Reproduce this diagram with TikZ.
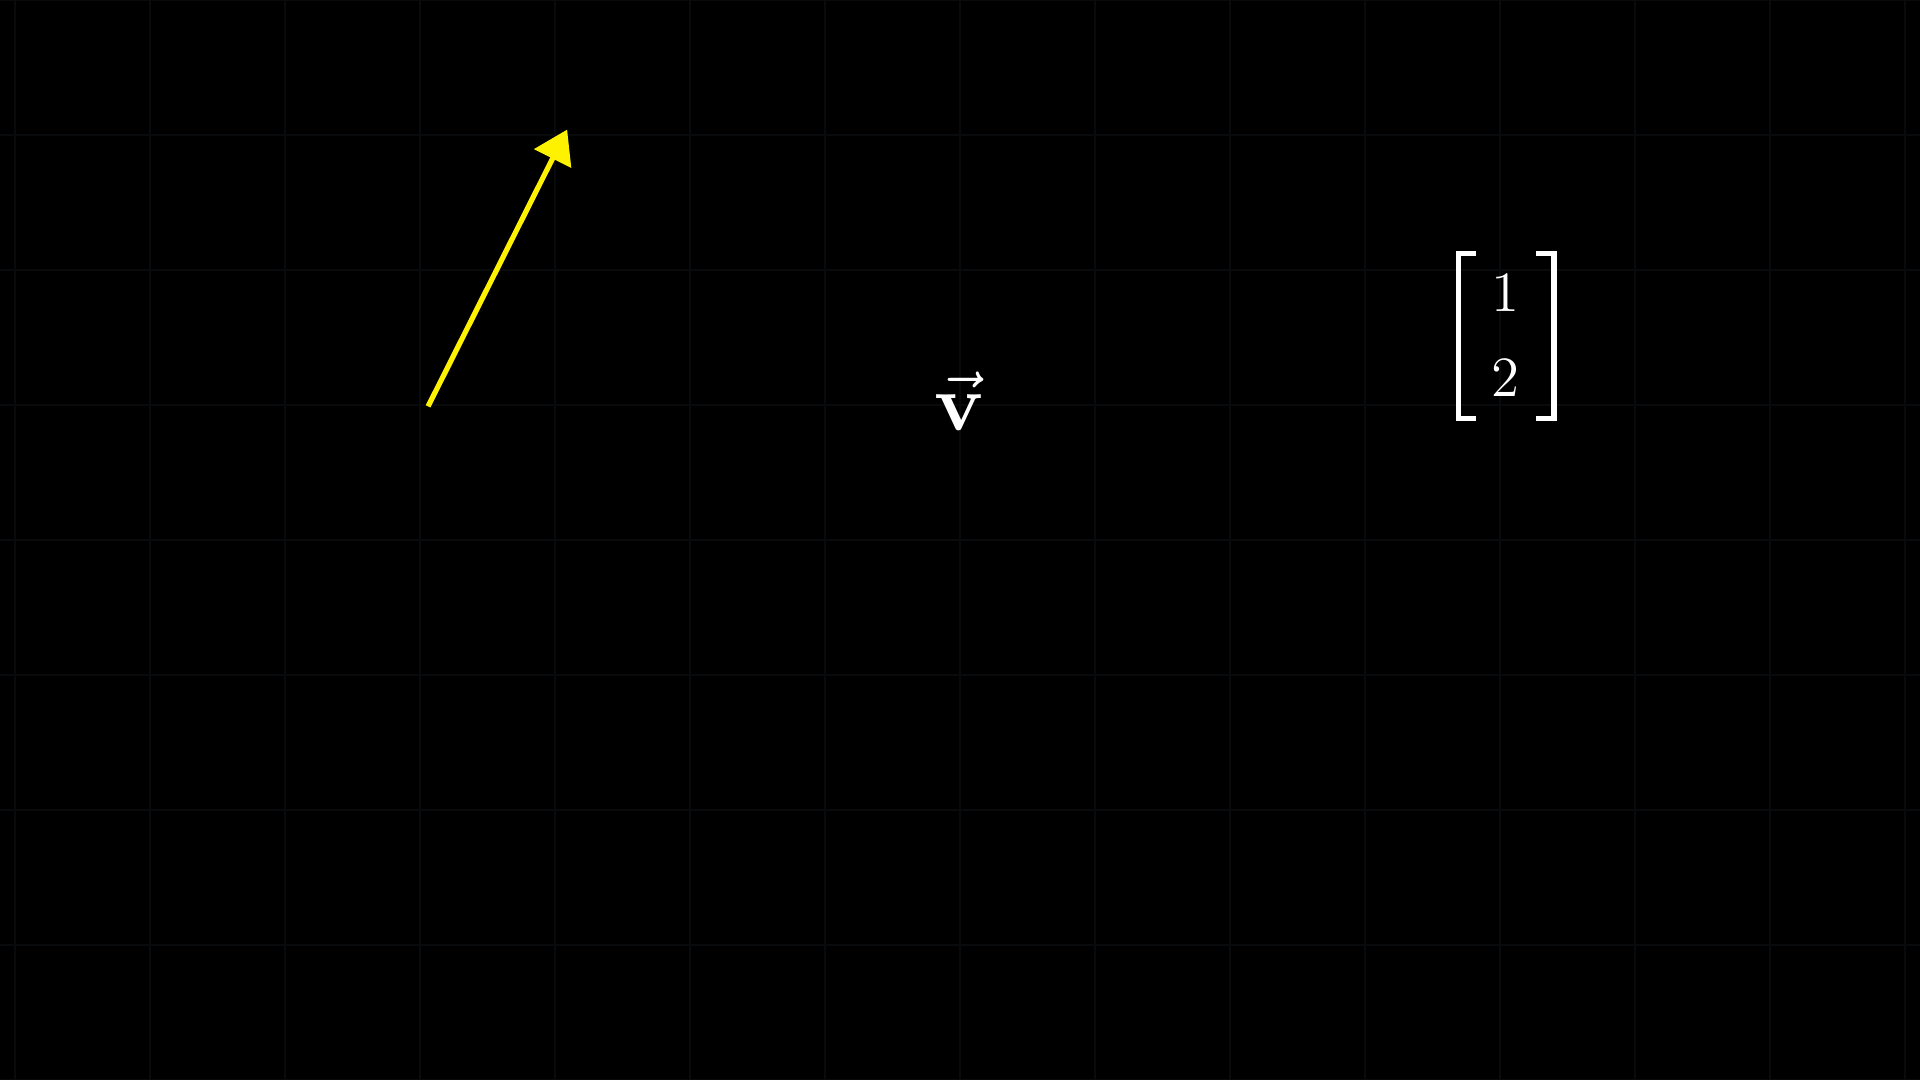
\documentclass[tikz,border=0pt]{standalone}
\usepackage{amsmath}
\usepackage{amssymb}
\usepackage{xcolor}
\usepackage{tikz}
\usetikzlibrary{arrows.meta}

\definecolor{gridgray}{RGB}{9,10,12}

\begin{document}
\begin{tikzpicture}[
        vecline/.style={yellow, line width=1.1pt, -{Triangle[length=0.24cm, width=0.30cm]}},
        brack/.style={white, line width=1.1pt},
        entry/.style={white, inner sep=0pt, font=\fontsize{13}{15}\selectfont}
    ]
        \fill[black] (-7.1111, -4) rectangle (7.1111, 4);
        \useasboundingbox (-7.1111, -4) rectangle (7.1111, 4);

        \foreach \x in {-7,...,7}
            \draw[gridgray, line width=0.6pt] (\x, -4) -- (\x, 4);
        \foreach \y in {-4,...,4}
            \draw[gridgray, line width=0.6pt] (-7.1111, \y) -- (7.1111, \y);

        \coordinate (tail) at (-3.94, 0.99);
        \coordinate (tip) at (-2.91, 3.04);
        \draw[vecline] (tail) -- (tip);

        \node[white, scale=1.7] (vlabel) at (0, 1.03) {$\vec{\mathbf{v}}$};

        \node[entry] (one) at (4.04, 1.83) {$1$};
        \node[entry] (two) at (4.04, 1.20) {$2$};
        \draw[brack] (3.82, 2.12) -- (3.69, 2.12) -- (3.69, 0.90) -- (3.82, 0.90);
        \draw[brack] (4.27, 2.12) -- (4.40, 2.12) -- (4.40, 0.90) -- (4.27, 0.90);
    \end{tikzpicture}
\end{document}
